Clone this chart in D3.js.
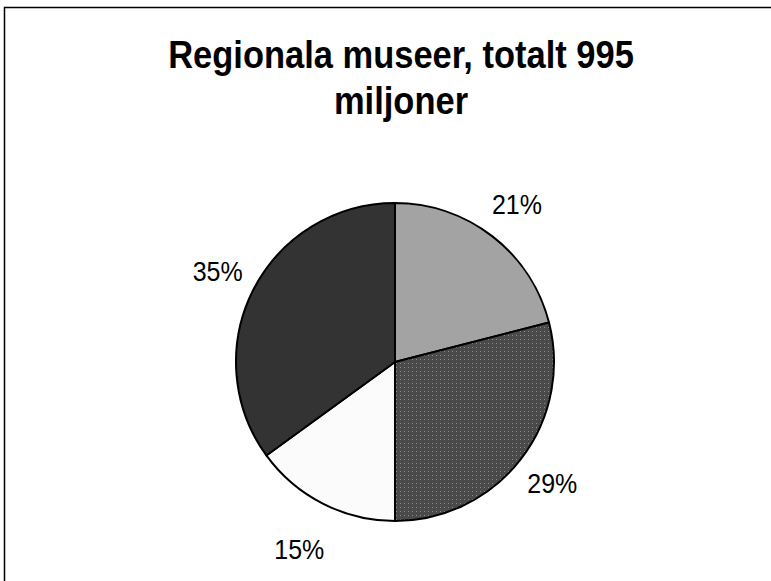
<!DOCTYPE html>
<html>
<head>
<meta charset="utf-8">
<script src="https://cdn.jsdelivr.net/npm/d3@7/dist/d3.min.js"></script>
<style>
  html, body { margin: 0; padding: 0; background: #fff; }
  svg { display: block; }
</style>
</head>
<body>
<div id="chart"></div>
<script>
// Data
const titleLines = ['Regionala museer, totalt 995', 'miljoner'];
const shares = [21, 29, 15, 35];            // percent, clockwise from 12 o'clock
const fills = ['#a3a3a3', 'url(#dots)', '#fbfbfb', '#333333'];

const width = 771, height = 581;
const cx = 395, cy = 362, radius = 159;

const svg = d3.select('#chart').append('svg')
    .attr('width', width)
    .attr('height', height);

// dotted texture for the second slice
const pat = svg.append('defs').append('pattern')
    .attr('id', 'dots')
    .attr('patternUnits', 'userSpaceOnUse')
    .attr('width', 4).attr('height', 4);
pat.append('rect').attr('width', 4).attr('height', 4).attr('fill', '#4a4a4a');
pat.append('rect').attr('x', 1).attr('y', 1).attr('width', 1).attr('height', 1).attr('fill', '#8c8c8c');

// chart frame (only top and left edges are in view)
svg.append('rect')
    .attr('x', 4.5).attr('y', 7.5)
    .attr('width', 900).attr('height', 900)
    .attr('fill', 'none')
    .attr('stroke', '#000')
    .attr('stroke-width', 1.5);

// title, slightly stretched vertically like the original
svg.selectAll('.title')
    .data(titleLines)
    .enter()
    .append('text')
    .attr('class', 'title')
    .attr('transform', (d, i) => `translate(401,${68 + i * 46}) scale(1,1.12)`)
    .attr('text-anchor', 'middle')
    .attr('font-family', 'Liberation Sans, Arial, sans-serif')
    .attr('font-weight', 'bold')
    .attr('font-size', 34.5)
    .text(d => d);

// pie
const pie = d3.pie().sort(null).value(d => d);
const arcs = pie(shares);
const arc = d3.arc().innerRadius(0).outerRadius(radius);

const g = svg.append('g').attr('transform', `translate(${cx},${cy})`);

g.selectAll('path')
    .data(arcs)
    .enter()
    .append('path')
    .attr('d', arc)
    .attr('fill', (d, i) => fills[i])
    .attr('stroke', '#000')
    .attr('stroke-width', 2)
    .attr('stroke-linejoin', 'round');

// percentage labels outside the slices
const labelArc = d3.arc().innerRadius(199).outerRadius(199);
g.selectAll('.pct')
    .data(arcs)
    .enter()
    .append('text')
    .attr('class', 'pct')
    .attr('transform', d => {
        const [x, y] = labelArc.centroid(d);
        // labels near the bottom sit a little further out, as in the original
        const push = y > 150 ? 1.06 : 1;
        return `translate(${x * push},${y * push}) scale(1,1.08)`;
    })
    .attr('text-anchor', 'middle')
    .attr('dominant-baseline', 'central')
    .attr('font-family', 'Liberation Sans, Arial, sans-serif')
    .attr('font-size', 25)
    .text(d => d.data + '%');
</script>
</body>
</html>
